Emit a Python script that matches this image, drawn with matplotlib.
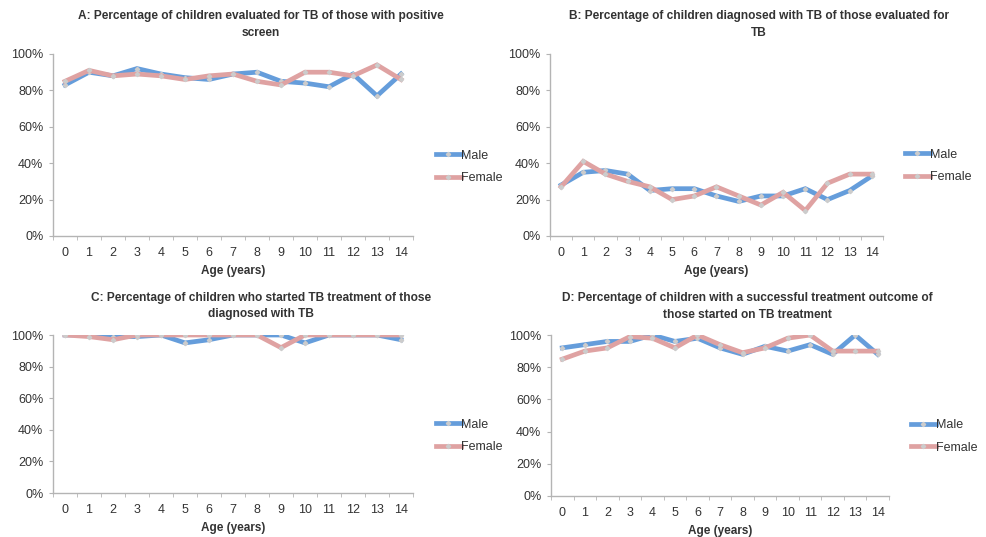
"""
Four-panel TB cascade chart by age and sex (Excel-style line charts).
"""

import matplotlib

matplotlib.use("Agg")
import matplotlib.pyplot as plt
from matplotlib.ticker import FixedLocator, FuncFormatter

# ── Data ──────────────────────────────────────────────────────────────────────
AGES = list(range(15))

A_MALE = [83, 90, 88, 92, 89, 87, 86, 89, 90, 85, 84, 82, 89, 77, 89]
A_FEMALE = [85, 91, 88, 89, 88, 86, 88, 89, 85, 83, 90, 90, 88, 94, 86]

B_MALE = [28, 35, 36, 34, 25, 26, 26, 22, 19, 22, 22, 26, 20, 25, 33]
B_FEMALE = [27, 41, 34, 30, 27, 20, 22, 27, 22, 17, 24, 14, 29, 34, 34]

C_MALE = [100, 100, 99, 99, 100, 95, 97, 100, 100, 100, 95, 100, 100, 100, 97]
C_FEMALE = [100, 99, 97, 100, 100, 100, 100, 100, 100, 92, 100, 100, 100, 100, 100]

D_MALE = [92, 94, 96, 96, 100, 96, 98, 92, 88, 93, 90, 94, 88, 100, 88]
D_FEMALE = [85, 90, 92, 99, 98, 92, 100, 94, 89, 92, 98, 100, 90, 90, 90]

TITLES = [
    "A: Percentage of children evaluated for TB of those with positive\nscreen",
    "B: Percentage of children diagnosed with TB of those evaluated for\nTB",
    "C: Percentage of children who started TB treatment of those\ndiagnosed with TB",
    "D: Percentage of children with a successful treatment outcome of\nthose started on TB treatment",
]
SERIES = [(A_MALE, A_FEMALE), (B_MALE, B_FEMALE), (C_MALE, C_FEMALE), (D_MALE, D_FEMALE)]

# ── Layout (pixels in a 987x537 canvas) ──────────────────────────────────────
W, H = 987, 537
# left, top, right, bottom of each axes; title centre x, title top y; legend y
PANELS = [
    dict(box=(53, 54, 413, 236), tx=261, ty=10, leg=0.38),
    dict(box=(550, 54, 883, 236), tx=759, ty=10, leg=0.385),
    dict(box=(53, 335, 413, 493), tx=261, ty=292, leg=0.36),
    dict(box=(551, 335, 889, 496), tx=747, ty=292, leg=0.37),
]

BLUE = "#659ddb"
PINK = "#dfa2a2"
GRAY = "#b4b4b4"
TXT = "#333333"

plt.rcParams["font.family"] = ["Liberation Sans", "DejaVu Sans"]

fig = plt.figure(figsize=(W / 100, H / 100), dpi=100)

for (male, female), title, p in zip(SERIES, TITLES, PANELS):
    l, t, r, b = p["box"]
    ax = fig.add_axes([l / W, 1 - b / H, (r - l) / W, (b - t) / H])

    ax.plot(AGES, male, color=BLUE, lw=3.4, marker="D", ms=2.2,
            mfc="#cccccc", mec="#cccccc", label="Male", solid_joinstyle="miter")
    ax.plot(AGES, female, color=PINK, lw=3.4, marker="D", ms=2.2,
            mfc="#cccccc", mec="#cccccc", label="Female", solid_joinstyle="miter")

    ax.set_xlim(-0.5, 14.5)
    ax.set_ylim(0, 100)
    ax.set_yticks(range(0, 101, 20))
    ax.yaxis.set_major_formatter(FuncFormatter(lambda v, _: f"{v:.0f}%"))
    ax.set_xticks(AGES)
    ax.xaxis.set_minor_locator(FixedLocator([i + 0.5 for i in range(-1, 15)]))
    ax.tick_params(axis="x", which="major", length=0, pad=8, labelsize=9, labelcolor=TXT)
    ax.tick_params(axis="x", which="minor", length=3, direction="out", color=GRAY)
    ax.tick_params(axis="y", length=3, direction="out", color=GRAY,
                   labelsize=9, labelcolor=TXT, pad=4)

    for side in ("top", "right"):
        ax.spines[side].set_visible(False)
    for side in ("left", "bottom"):
        ax.spines[side].set_color(GRAY)
        ax.spines[side].set_linewidth(1.0)

    ax.set_xlabel("Age (years)", fontsize=8.5, fontweight="bold", color=TXT, labelpad=4)

    leg = ax.legend(loc="center left", bbox_to_anchor=(1.05, p["leg"]), frameon=False,
                    fontsize=9, handlelength=2.0, handletextpad=0.0, labelspacing=0.85,
                    borderaxespad=0)
    for txt in leg.get_texts():
        txt.set_color(TXT)

    fig.text(p["tx"] / W, 1 - p["ty"] / H, title, ha="center", va="top",
             fontsize=8.6, fontweight="bold", color=TXT, linespacing=1.5)

fig.savefig("out.png", dpi=100, facecolor="white")
